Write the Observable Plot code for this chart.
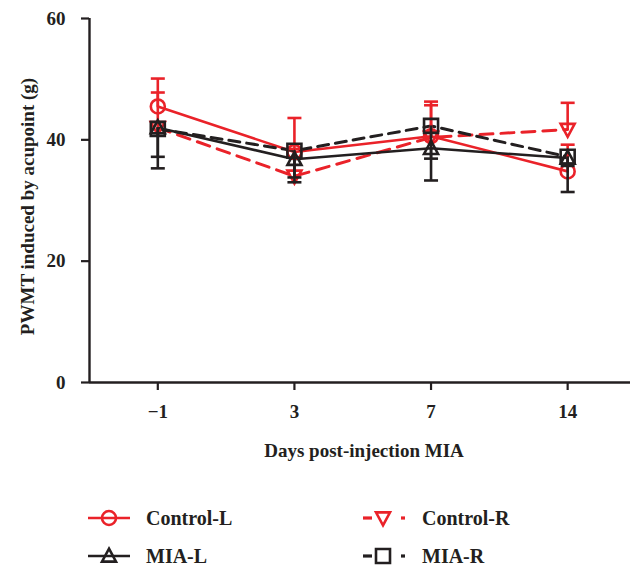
<!DOCTYPE html>
<html><head><meta charset="utf-8">
<script src="https://cdn.jsdelivr.net/npm/d3@7"></script>
<script src="https://cdn.jsdelivr.net/npm/@observablehq/plot@0.6"></script>
<style>
body{margin:0;background:#fff;font-family:"Liberation Serif",serif;}
#wrap{position:relative;width:640px;height:569px;overflow:hidden;}
#legend{position:absolute;left:0;top:0;width:640px;height:569px;pointer-events:none;}
</style></head><body><div id="wrap"><div id="chart"></div><svg id="legend" width="640" height="569"></svg></div>
<script>
const days = ["\u22121", "3", "7", "14"];
const seriesNames = ["Control-L", "Control-R", "MIA-L", "MIA-R"];
const controlL    = [45.5, 38.0, 40.6, 34.8];
const controlLErr = [4.6, 5.6, 5.7, 4.4];
const controlR    = [42.0, 34.0, 40.4, 41.7];
const controlRErr = [5.8, 4.5, 5.3, 4.4];
const miaL        = [42.0, 36.8, 38.6, 37.0];
const miaLErr     = [6.7, 3.8, 5.3, 5.6];
const miaR        = [41.8, 38.2, 42.3, 37.2];
const miaRErr     = [4.6, 4.4, 5.4, 1.5];
const yTicks = [0, 20, 40, 60];
const yLabel = "PWMT induced by acupoint (g)";
const xLabel = "Days post-injection MIA";

const RED = "#ea2229", BLACK = "#231f20";
const FONT = "Liberation Serif, Times New Roman, serif";
const LW = 2.6;

const rad = size => Math.sqrt(size / Math.PI);
const circleSym = {draw(c, s){ const r = rad(s); c.moveTo(r, 0); c.arc(0, 0, r, 0, 2 * Math.PI); }};
const squareSym = {draw(c, s){ const r = rad(s); c.rect(-r, -r, 2 * r, 2 * r); }};
const upTri = {draw(c, s){ const r = rad(s); c.moveTo(0, -r * 1.05); c.lineTo(r, r * 0.8); c.lineTo(-r, r * 0.8); c.closePath(); }};
const downTri = {draw(c, s){ const r = rad(s); c.moveTo(0, r * 1.05); c.lineTo(r, -r * 0.8); c.lineTo(-r, -r * 0.8); c.closePath(); }};
const capSym = {draw(c, s){ const r = rad(s); c.moveTo(-r, 0); c.lineTo(r, 0); }};

const series = [
  {name: "Control-L", v: controlL, e: controlLErr, dir: 1, color: RED, dash: null, sym: circleSym},
  {name: "Control-R", v: controlR, e: controlRErr, dir: 1, color: RED, dash: "13,8", sym: downTri},
  {name: "MIA-L", v: miaL, e: miaLErr, dir: -1, color: BLACK, dash: null, sym: upTri},
  {name: "MIA-R", v: miaR, e: miaRErr, dir: -1, color: BLACK, dash: "11,7", sym: squareSym}
];
const rowsOf = s => s.v.map((v, i) => ({i, v, end: v + s.dir * s.e[i]}));

const marks = [];
for (const s of series) {
  marks.push(Plot.line(rowsOf(s), {x: "i", y: "v", stroke: s.color, strokeWidth: s.dash ? 3 : LW, strokeDasharray: s.dash}));
}
for (const s of series) {
  const rows = rowsOf(s);
  marks.push(Plot.ruleX(rows, {x: "i", y1: "v", y2: "end", stroke: s.color, strokeWidth: LW}));
  marks.push(Plot.dot(rows, {x: "i", y: "end", symbol: capSym, r: 7, stroke: s.color, strokeWidth: LW, fill: "none"}));
  marks.push(Plot.dot(rows, {x: "i", y: "v", symbol: s.sym, r: 7, stroke: s.color, strokeWidth: LW, fill: "none"}));
}

const chart = Plot.plot({
  width: 640, height: 480,
  marginLeft: 89, marginRight: 10, marginTop: 18, marginBottom: 98,
  style: {fontFamily: FONT, background: "#fff", color: BLACK},
  x: {type: "linear", domain: [-0.5, 3.46]},
  y: {domain: [0, 60]},
  marks: [
    Plot.axisY({ticks: yTicks, tickSize: 8, tickPadding: 16, fontSize: 19, fontWeight: "bold", label: null, strokeWidth: 2.2, stroke: BLACK, fill: BLACK}),
    Plot.axisX({ticks: [0, 1, 2, 3], tickFormat: i => days[i], tickSize: 8, tickPadding: 14, fontSize: 19, fontWeight: "bold", label: null, strokeWidth: 2.2, stroke: BLACK, fill: BLACK}),
    Plot.ruleY([0], {stroke: BLACK, strokeWidth: 2.4}),
    Plot.ruleX([-0.5], {stroke: BLACK, strokeWidth: 2.4}),
    Plot.text([yLabel], {frameAnchor: "left", textAnchor: "middle", rotate: -90, dx: -62, dy: 6, fontSize: 19, fontWeight: "bold", fill: BLACK}),
    Plot.text([xLabel], {frameAnchor: "bottom", textAnchor: "middle", dy: 74, dx: 4, fontSize: 19, fontWeight: "bold", fill: BLACK}),
    ...marks
  ]
});
document.getElementById("chart").appendChild(chart);

// Legend (below the plot)
const leg = d3.select("#legend");
const legendPos = [
  {x: 88, y: 518}, {x: 363, y: 518}, {x: 88, y: 556}, {x: 363, y: 556}
];
series.forEach((s, k) => {
  const p = legendPos[k];
  const g = leg.append("g").attr("transform", `translate(${p.x},${p.y})`);
  const symPath = d3.path(); s.sym.draw(symPath, 7 * 7 * Math.PI);
  if (!s.dash) {
    g.append("line").attr("x1", 0).attr("x2", 42).attr("y1", 0).attr("y2", 0).attr("stroke", s.color).attr("stroke-width", LW);
    g.append("path").attr("d", symPath.toString()).attr("transform", "translate(21,0)").attr("fill", "none").attr("stroke", s.color).attr("stroke-width", LW);
    g.append("text").attr("x", 58).attr("y", 0).attr("dy", "0.35em").attr("font-family", FONT).attr("font-weight", "bold").attr("font-size", 20).attr("fill", BLACK).text(s.name);
  } else {
    g.append("line").attr("x1", 0).attr("x2", 9).attr("y1", 0).attr("y2", 0).attr("stroke", s.color).attr("stroke-width", 3.2);
    g.append("path").attr("d", symPath.toString()).attr("transform", "translate(20,0)").attr("fill", "none").attr("stroke", s.color).attr("stroke-width", LW);
    g.append("line").attr("x1", 38).attr("x2", 42).attr("y1", 0).attr("y2", 0).attr("stroke", s.color).attr("stroke-width", 3.2);
    g.append("text").attr("x", 59).attr("y", 0).attr("dy", "0.35em").attr("font-family", FONT).attr("font-weight", "bold").attr("font-size", 20).attr("fill", BLACK).text(s.name);
  }
});
</script>
</body></html>
